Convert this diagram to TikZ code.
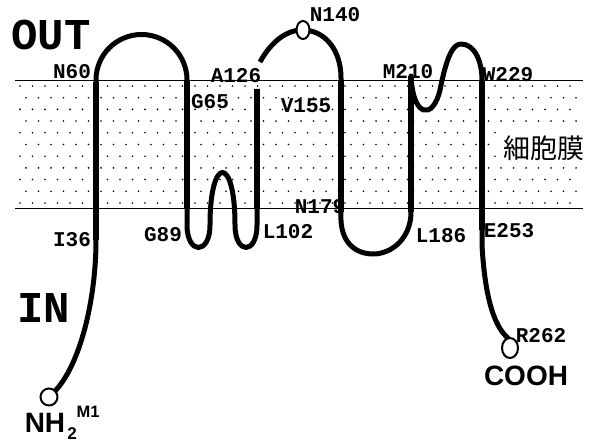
\documentclass[tikz,border=0pt]{standalone}
\usepackage{fontspec}
\newfontfamily\monof{Liberation Mono}
\newfontfamily\sansf{Liberation Sans}
\newfontfamily\cjkf{Noto Sans CJK JP}
\begin{document}
\begin{tikzpicture}[x=1pt,y=-1pt,
  chain/.style={line width=5pt, line join=round},
  helix/.style={line width=6pt},
  res/.style={font=\monof\bfseries\fontsize{21}{21}\selectfont, inner sep=0pt},
  big/.style={font=\monof\bfseries\fontsize{44}{44}\selectfont, inner sep=0pt},
  term/.style={draw, line width=2pt, fill=white},
  sanslab/.style={font=\sansf\bfseries\fontsize{28}{28}\selectfont, inner sep=0pt},
  memline/.style={line width=1pt}]
\useasboundingbox (0,0) rectangle (591,443);
% membrane dots
\foreach \j in {0,...,10} {
  \foreach \i in {0,...,44} {
    \fill ({20+12.5*\i+6*mod(\j,2)}, {86+11.7*\j}) circle (0.9pt);
  }
}
\coordinate (mtl) at (15,81); \coordinate (mtr) at (583,81);
\coordinate (mbl) at (15,209); \coordinate (mbr) at (583,209);
\draw[memline] (mtl) -- (mtr);
\draw[memline] (mbl) -- (mbr);
\node[fill=white, inner sep=5pt, font=\cjkf\fontsize{27}{27}\selectfont] (mem) at (544,148) {細胞膜};
% terminal circles positions
\coordinate (nt) at (49,397);
\coordinate (ct) at (510,348);
% chain part 1
\draw[chain] (55,391) .. controls (80,365) and (96,300) .. (96,240) -- (96,80)
  arc (180:360:45.5) -- (187,225)
  .. controls (187,255) and (210,255) .. (210,225)
  .. controls (210,155) and (235,155) .. (235,225)
  .. controls (235,255) and (257,255) .. (257,225) -- (257,89);
% chain part 2
\draw[chain] (260,62) .. controls (272,40) and (288,30) .. (302,30)
  .. controls (325,30) and (341,50) .. (341,78) -- (341,212)
  .. controls (339,245) and (358,254) .. (373,254)
  .. controls (392,254) and (411,238) .. (411,212) -- (411,76)
  .. controls (413,118) and (433,120) .. (440,90)
  .. controls (446,60) and (452,44) .. (461,44)
  .. controls (475,44) and (482,62) .. (482,80) -- (482,245)
  .. controls (485,300) and (495,328) .. (509,339);
% thicker transmembrane segments
\draw[helix] (96,82) -- (96,240);
\draw[helix] (187,80) -- (187,209);
\draw[helix] (257,89) -- (257,209);
\draw[helix] (341,80) -- (341,212);
\draw[helix] (411,76) -- (411,212);
\draw[helix] (482,80) -- (482,230);
% circles
\draw[term] (nt) circle (8.5pt);
\draw[term] (ct) ellipse (8pt and 10pt);
\draw[term] (303,30) ellipse (6.5pt and 9pt);
% labels
\node[big] (out) at (51,35) {OUT};
\node[big] (in) at (44,308) {IN};
\node[res] (n60) at (72,72) {N60};
\node[res] (g65) at (210,102) {G65};
\node[res] (a126) at (236,76) {A126};
\node[res] (v155) at (306,106) {V155};
\node[res] (n140) at (335,15) {N140};
\node[res] (m210) at (408,72) {M210};
\node[res] (w229) at (508,75) {W229};
\node[res] (i36) at (72,240) {I36};
\node[res] (g89) at (163,235) {G89};
\node[res] (l102) at (288,232) {L102};
\node[res] (n179) at (320,207) {N179};
\node[res] (l186) at (441,236) {L186};
\node[res] (e253) at (509,231) {E253};
\node[res] (r262) at (541,336) {R262};
\node[sanslab] (cooh) at (526,376) {COOH};
\node[sanslab] (nh) at (45,423) {NH};
\node[font=\sansf\bfseries\fontsize{17}{17}\selectfont, inner sep=0pt] (two) at (72,434) {2};
\node[font=\sansf\bfseries\fontsize{16.5}{16.5}\selectfont, inner sep=0pt] (m1) at (88,412) {M1};
\end{tikzpicture}
\end{document}
